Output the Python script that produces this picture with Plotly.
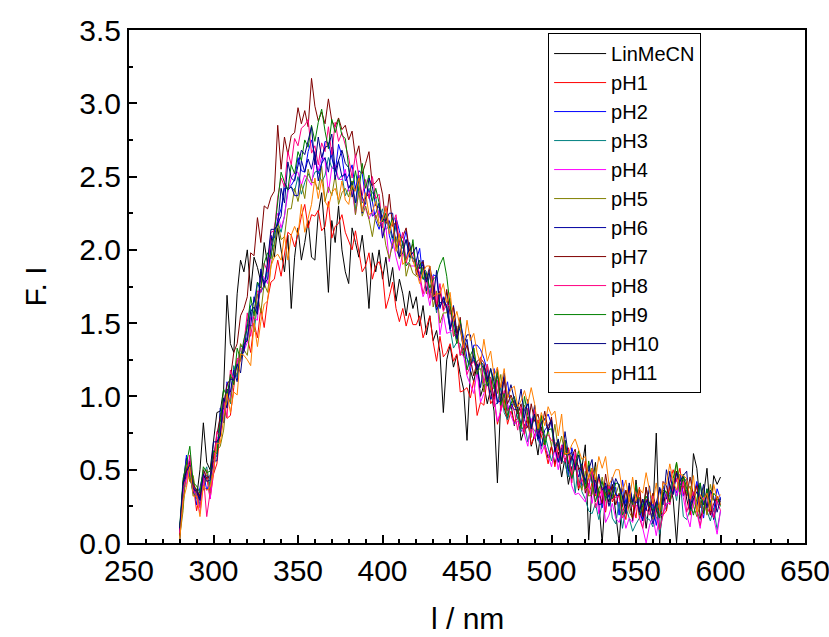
import plotly.graph_objects as go

wavelength = list(range(280, 601, 2))

lin_mecn = [0.00, 0.41, 0.58, 0.45, 0.34, 0.31, 0.50, 0.82, 0.55, 0.50,
            0.70, 0.89, 0.90, 1.05, 1.69, 1.36, 1.30, 1.70, 1.93, 1.85,
            2.00, 1.72, 1.95, 1.88, 1.78, 2.05, 1.90, 2.10, 1.95, 2.15,
            2.00, 1.85, 2.10, 1.60, 1.95, 2.15, 1.93, 2.05, 2.20, 1.95,
            1.93, 2.25, 2.39, 2.10, 1.71, 2.20, 2.05, 2.30, 2.00, 1.85,
            1.77, 2.15, 2.05, 1.95, 2.10, 1.90, 1.60, 1.98, 1.85, 2.00,
            1.80, 1.95, 1.75, 1.88, 1.65, 1.80, 1.70, 1.55, 1.72, 1.60,
            1.68, 1.48, 1.62, 1.42, 1.55, 1.38, 1.45, 1.30, 0.89, 1.25,
            1.35, 1.20, 1.28, 1.15, 1.05, 0.70, 1.18, 1.10, 1.22, 1.00,
            1.08, 0.95, 1.05, 0.90, 0.41, 0.98, 0.92, 0.85, 0.95, 0.80,
            0.92, 0.70, 0.78, 0.86, 0.66, 0.74, 0.60, 0.79, 0.68, 0.58,
            0.66, 0.54, 0.62, 0.45, 0.58, 0.40, 0.52, 0.56, 0.36, 0.50,
            0.67, 0.02, 0.38, 0.55, 0.30, 0.00, 0.35, 0.28, 0.40, 0.20,
            0.00, 0.32, 0.25, 0.38, 0.15, 0.43, 0.22, 0.30, 0.10, 0.28,
            0.20, 0.75, 0.00, 0.35, 0.22, 0.40, 0.30, 0.00, 0.35, 0.45,
            0.30, 0.20, 0.61, 0.51, 0.25, 0.33, 0.51, 0.20, 0.46, 0.40,
            0.45]

ph1 = [0.10, 0.28, 0.52, 0.42, 0.40, 0.22, 0.33, 0.38, 0.45, 0.30,
       0.47, 0.54, 0.76, 0.92, 0.85, 0.87, 1.06, 1.26, 1.24, 1.34,
       1.40, 1.30, 1.50, 1.40, 1.60, 1.47, 1.66, 1.78, 1.80, 1.93,
       1.82, 1.98, 2.12, 2.10, 2.02, 2.11, 2.23, 2.31, 2.15, 2.24,
       2.23, 2.27, 2.13, 2.16, 2.33, 2.08, 2.16, 2.18, 2.24, 2.12,
       2.06, 2.00, 2.13, 1.98, 1.85, 1.89, 1.98, 1.80, 1.89, 1.92,
       1.84, 1.60, 1.68, 1.78, 1.60, 1.51, 1.60, 1.48, 1.57, 1.49,
       1.49, 1.55, 1.40, 1.47, 1.55, 1.37, 1.24, 1.41, 1.27, 1.30,
       1.36, 1.24, 1.29, 1.03, 1.04, 1.06, 0.99, 1.11, 0.87, 0.96,
       0.94, 1.13, 0.95, 0.99, 0.81, 0.90, 0.98, 0.81, 0.90, 0.83,
       0.85, 0.91, 0.74, 0.84, 0.67, 0.73, 0.84, 0.73, 0.65, 0.54,
       0.66, 0.52, 0.65, 0.56, 0.62, 0.65, 0.45, 0.57, 0.37, 0.44,
       0.56, 0.33, 0.41, 0.32, 0.45, 0.33, 0.21, 0.38, 0.28, 0.33,
       0.32, 0.26, 0.16, 0.37, 0.28, 0.17, 0.38, 0.19, 0.30, 0.22,
       0.17, 0.28, 0.23, 0.19, 0.22, 0.41, 0.50, 0.42, 0.51, 0.33,
       0.42, 0.19, 0.30, 0.40, 0.24, 0.30, 0.20, 0.25, 0.17, 0.32,
       0.26]

ph2 = [0.08, 0.38, 0.60, 0.45, 0.44, 0.26, 0.38, 0.48, 0.36, 0.42,
       0.48, 0.69, 0.73, 0.91, 1.10, 1.00, 1.17, 1.22, 1.25, 1.36,
       1.51, 1.62, 1.64, 1.78, 1.71, 1.76, 1.88, 2.09, 2.08, 2.21,
       2.28, 2.42, 2.42, 2.44, 2.48, 2.63, 2.54, 2.53, 2.67, 2.75,
       2.64, 2.52, 2.59, 2.74, 2.73, 2.62, 2.53, 2.72, 2.64, 2.47,
       2.51, 2.58, 2.41, 2.54, 2.52, 2.35, 2.41, 2.33, 2.20, 2.14,
       2.23, 2.28, 2.10, 2.01, 2.22, 2.13, 2.03, 2.13, 1.97, 1.94,
       1.93, 2.01, 1.80, 1.80, 1.68, 1.83, 1.82, 1.60, 1.68, 1.60,
       1.45, 1.55, 1.41, 1.51, 1.40, 1.26, 1.17, 1.35, 1.35, 1.32,
       1.26, 1.18, 1.06, 1.19, 0.95, 1.02, 1.02, 1.10, 0.92, 0.97,
       0.91, 0.91, 0.84, 0.79, 0.77, 0.90, 0.70, 0.83, 0.84, 0.88,
       0.81, 0.63, 0.58, 0.63, 0.70, 0.46, 0.65, 0.56, 0.52, 0.39,
       0.43, 0.38, 0.51, 0.34, 0.35, 0.24, 0.38, 0.37, 0.32, 0.38,
       0.19, 0.43, 0.27, 0.39, 0.28, 0.27, 0.31, 0.15, 0.38, 0.26,
       0.26, 0.12, 0.27, 0.39, 0.30, 0.34, 0.40, 0.34, 0.47, 0.32,
       0.36, 0.30, 0.32, 0.42, 0.28, 0.17, 0.37, 0.19, 0.22, 0.37,
       0.30]

ph3 = [0.12, 0.25, 0.52, 0.48, 0.32, 0.36, 0.26, 0.47, 0.52, 0.38,
       0.61, 0.59, 0.89, 0.82, 1.05, 0.95, 1.21, 1.13, 1.35, 1.32,
       1.41, 1.60, 1.44, 1.63, 1.73, 1.74, 1.86, 1.99, 2.04, 2.19,
       2.12, 2.23, 2.42, 2.43, 2.40, 2.50, 2.38, 2.46, 2.52, 2.47,
       2.53, 2.54, 2.46, 2.51, 2.63, 2.56, 2.55, 2.48, 2.51, 2.37,
       2.42, 2.47, 2.27, 2.49, 2.32, 2.36, 2.42, 2.39, 2.36, 2.22,
       2.28, 2.14, 2.16, 2.06, 2.16, 2.04, 2.01, 2.07, 1.95, 1.95,
       1.91, 1.79, 1.88, 1.85, 1.70, 1.72, 1.57, 1.71, 1.64, 1.60,
       1.47, 1.33, 1.37, 1.36, 1.27, 1.26, 1.21, 1.25, 1.17, 1.25,
       1.08, 1.08, 1.10, 0.93, 0.96, 1.06, 0.89, 0.84, 0.96, 0.97,
       0.85, 0.76, 0.81, 0.69, 0.79, 0.77, 0.71, 0.64, 0.74, 0.65,
       0.56, 0.65, 0.56, 0.57, 0.54, 0.45, 0.58, 0.34, 0.53, 0.35,
       0.30, 0.22, 0.20, 0.27, 0.16, 0.27, 0.37, 0.36, 0.17, 0.13,
       0.28, 0.10, 0.24, 0.17, 0.08, 0.13, 0.17, 0.27, 0.17, 0.16,
       0.11, 0.28, 0.06, 0.21, 0.25, 0.33, 0.41, 0.29, 0.45, 0.18,
       0.16, 0.23, 0.21, 0.22, 0.16, 0.34, 0.22, 0.15, 0.24, 0.09,
       0.22]

ph4 = [0.06, 0.36, 0.40, 0.60, 0.36, 0.32, 0.20, 0.42, 0.50, 0.30,
       0.50, 0.71, 0.75, 0.91, 0.94, 0.99, 1.13, 1.24, 1.33, 1.31,
       1.37, 1.54, 1.53, 1.52, 1.84, 1.81, 1.77, 1.97, 2.16, 2.25,
       2.15, 2.23, 2.39, 2.49, 2.53, 2.53, 2.44, 2.51, 2.48, 2.44,
       2.62, 2.54, 2.64, 2.61, 2.39, 2.56, 2.58, 2.48, 2.48, 2.55,
       2.40, 2.41, 2.24, 2.40, 2.35, 2.28, 2.21, 2.27, 2.21, 2.27,
       2.09, 2.16, 1.92, 2.07, 1.95, 1.86, 1.98, 1.92, 1.89, 1.89,
       1.89, 1.80, 1.68, 1.74, 1.62, 1.74, 1.70, 1.42, 1.56, 1.43,
       1.44, 1.46, 1.44, 1.29, 1.28, 1.14, 1.08, 1.02, 1.17, 0.96,
       1.02, 1.12, 1.09, 0.99, 0.83, 0.90, 1.00, 0.95, 0.87, 0.81,
       0.83, 0.79, 0.74, 0.66, 0.85, 0.71, 0.81, 0.61, 0.67, 0.60,
       0.52, 0.64, 0.50, 0.62, 0.59, 0.56, 0.39, 0.33, 0.34, 0.31,
       0.28, 0.41, 0.27, 0.40, 0.20, 0.36, 0.14, 0.19, 0.27, 0.17,
       0.14, 0.23, 0.10, 0.17, 0.14, 0.26, 0.23, 0.10, 0.00, 0.12,
       0.18, 0.05, 0.19, 0.19, 0.27, 0.27, 0.42, 0.32, 0.43, 0.31,
       0.19, 0.11, 0.30, 0.21, 0.10, 0.31, 0.24, 0.21, 0.17, 0.06,
       0.22]

ph5 = [0.04, 0.22, 0.56, 0.42, 0.46, 0.30, 0.34, 0.36, 0.50, 0.34,
       0.62, 0.63, 0.66, 0.77, 1.00, 0.96, 1.13, 1.16, 1.36, 1.32,
       1.28, 1.48, 1.49, 1.70, 1.57, 1.77, 1.71, 1.89, 2.02, 2.19,
       2.07, 2.09, 2.28, 2.28, 2.42, 2.33, 2.45, 2.35, 2.55, 2.46,
       2.46, 2.41, 2.57, 2.33, 2.43, 2.37, 2.51, 2.31, 2.39, 2.42,
       2.36, 2.47, 2.24, 2.40, 2.23, 2.30, 2.21, 2.09, 2.24, 2.16,
       2.18, 2.03, 1.94, 2.04, 2.09, 1.94, 2.06, 1.82, 1.91, 1.84,
       1.82, 1.83, 1.88, 1.70, 1.85, 1.61, 1.72, 1.50, 1.57, 1.57,
       1.67, 1.41, 1.48, 1.28, 1.34, 1.36, 1.21, 1.33, 1.18, 1.19,
       1.03, 1.22, 1.04, 1.14, 1.02, 1.15, 0.92, 1.00, 0.99, 0.93,
       0.93, 0.89, 0.94, 0.83, 0.72, 0.94, 0.74, 0.87, 0.67, 0.77,
       0.66, 0.81, 0.64, 0.73, 0.60, 0.64, 0.57, 0.56, 0.42, 0.36,
       0.49, 0.32, 0.33, 0.52, 0.32, 0.45, 0.32, 0.40, 0.32, 0.33,
       0.40, 0.28, 0.36, 0.21, 0.17, 0.29, 0.31, 0.21, 0.38, 0.24,
       0.16, 0.27, 0.25, 0.39, 0.33, 0.28, 0.37, 0.55, 0.42, 0.44,
       0.34, 0.39, 0.25, 0.18, 0.26, 0.38, 0.19, 0.40, 0.29, 0.31,
       0.27]

ph6 = [0.09, 0.40, 0.46, 0.56, 0.34, 0.37, 0.30, 0.44, 0.46, 0.44,
       0.56, 0.56, 0.92, 0.82, 1.05, 1.03, 1.18, 1.10, 1.29, 1.30,
       1.49, 1.48, 1.68, 1.58, 1.87, 1.77, 1.80, 2.02, 2.13, 2.18,
       2.23, 2.46, 2.41, 2.43, 2.37, 2.37, 2.61, 2.53, 2.62, 2.55,
       2.67, 2.47, 2.59, 2.63, 2.53, 2.70, 2.48, 2.61, 2.50, 2.52,
       2.42, 2.46, 2.32, 2.51, 2.25, 2.36, 2.38, 2.23, 2.25, 2.32,
       2.08, 2.18, 2.20, 2.08, 2.20, 1.96, 2.05, 1.93, 2.05, 1.92,
       1.93, 1.81, 1.93, 1.72, 1.84, 1.74, 1.59, 1.64, 1.64, 1.71,
       1.46, 1.62, 1.44, 1.46, 1.32, 1.39, 1.21, 1.27, 1.22, 1.06,
       1.21, 1.14, 0.98, 1.02, 1.14, 1.06, 1.13, 0.90, 0.95, 0.91,
       0.91, 0.81, 0.91, 0.95, 0.78, 0.94, 0.77, 0.66, 0.77, 0.80,
       0.84, 0.66, 0.55, 0.65, 0.70, 0.49, 0.59, 0.52, 0.45, 0.54,
       0.40, 0.53, 0.41, 0.43, 0.26, 0.27, 0.41, 0.31, 0.45, 0.33,
       0.32, 0.37, 0.21, 0.39, 0.26, 0.40, 0.22, 0.15, 0.29, 0.24,
       0.13, 0.21, 0.38, 0.31, 0.30, 0.49, 0.34, 0.49, 0.40, 0.41,
       0.44, 0.24, 0.34, 0.24, 0.41, 0.26, 0.34, 0.29, 0.16, 0.27,
       0.31]

ph7 = [0.05, 0.42, 0.50, 0.55, 0.40, 0.36, 0.32, 0.50, 0.44, 0.46,
       0.58, 0.74, 0.86, 0.94, 1.08, 1.12, 1.30, 1.36, 1.55, 1.60,
       1.68, 1.98, 1.96, 2.22, 2.05, 2.30, 2.28, 2.36, 2.40, 2.85,
       2.55, 2.77, 2.65, 2.78, 2.80, 2.97, 2.86, 2.95, 2.84, 3.17,
       2.98, 2.88, 2.94, 2.86, 3.03, 2.88, 2.84, 2.90, 2.82, 2.85,
       2.75, 2.81, 2.63, 2.71, 2.52, 2.59, 2.67, 2.44, 2.46, 2.49,
       2.38, 2.18, 2.38, 2.16, 2.19, 2.05, 2.09, 2.15, 1.99, 2.04,
       1.83, 1.90, 1.92, 1.80, 1.89, 1.76, 1.61, 1.72, 1.59, 1.73,
       1.56, 1.61, 1.41, 1.54, 1.28, 1.35, 1.26, 1.14, 1.24, 1.26,
       1.23, 1.12, 1.13, 0.98, 1.19, 0.96, 1.12, 0.95, 1.01, 0.95,
       0.88, 0.95, 0.78, 0.79, 0.95, 0.83, 0.88, 0.77, 0.90, 0.77,
       0.86, 0.62, 0.68, 0.54, 0.69, 0.54, 0.59, 0.64, 0.50, 0.53,
       0.34, 0.45, 0.51, 0.43, 0.35, 0.27, 0.47, 0.33, 0.39, 0.26,
       0.34, 0.25, 0.36, 0.27, 0.17, 0.29, 0.37, 0.18, 0.38, 0.24,
       0.34, 0.23, 0.17, 0.42, 0.39, 0.28, 0.37, 0.49, 0.38, 0.39,
       0.32, 0.45, 0.32, 0.39, 0.17, 0.23, 0.34, 0.19, 0.27, 0.31,
       0.28]

ph8 = [0.07, 0.38, 0.44, 0.60, 0.36, 0.34, 0.24, 0.46, 0.18, 0.36,
       0.51, 0.76, 0.73, 0.99, 0.86, 1.18, 1.11, 1.24, 1.27, 1.36,
       1.57, 1.41, 1.58, 1.72, 1.71, 1.91, 1.85, 2.12, 2.13, 2.36,
       2.49, 2.43, 2.67, 2.58, 2.76, 2.71, 2.83, 2.85, 2.89, 2.66,
       2.71, 2.58, 2.73, 2.67, 2.84, 2.65, 2.87, 2.74, 2.80, 2.71,
       2.63, 2.49, 2.65, 2.50, 2.37, 2.48, 2.35, 2.50, 2.35, 2.38,
       2.15, 2.30, 2.15, 2.18, 2.24, 2.03, 2.12, 1.91, 1.99, 1.98,
       1.91, 1.84, 1.70, 1.80, 1.67, 1.82, 1.63, 1.77, 1.58, 1.63,
       1.61, 1.41, 1.43, 1.28, 1.38, 1.15, 1.21, 1.24, 1.17, 1.27,
       1.09, 1.22, 1.10, 0.93, 1.11, 0.91, 1.04, 0.90, 0.94, 0.90,
       0.77, 0.93, 0.76, 0.92, 0.75, 0.91, 0.74, 0.76, 0.72, 0.74,
       0.70, 0.69, 0.58, 0.67, 0.55, 0.64, 0.41, 0.62, 0.39, 0.44,
       0.36, 0.39, 0.50, 0.24, 0.31, 0.38, 0.22, 0.39, 0.30, 0.31,
       0.32, 0.17, 0.22, 0.34, 0.25, 0.35, 0.17, 0.10, 0.24, 0.19,
       0.32, 0.18, 0.09, 0.19, 0.34, 0.26, 0.39, 0.44, 0.33, 0.42,
       0.21, 0.29, 0.35, 0.22, 0.12, 0.23, 0.26, 0.35, 0.17, 0.29,
       0.22]

ph9 = [0.11, 0.44, 0.54, 0.66, 0.41, 0.39, 0.34, 0.52, 0.48, 0.49,
       0.63, 0.61, 0.82, 1.05, 1.00, 1.15, 1.08, 1.33, 1.25, 1.39,
       1.47, 1.68, 1.55, 1.78, 1.74, 1.91, 1.98, 1.94, 2.12, 2.33,
       2.53, 2.46, 2.41, 2.58, 2.52, 2.67, 2.61, 2.75, 2.70, 2.85,
       2.74, 2.87, 2.96, 2.81, 2.69, 2.89, 2.80, 2.89, 2.78, 2.76,
       2.56, 2.41, 2.54, 2.40, 2.59, 2.42, 2.51, 2.33, 2.42, 2.32,
       2.19, 2.25, 2.15, 2.22, 2.01, 2.10, 2.05, 1.89, 1.92, 2.07,
       1.86, 1.93, 1.80, 1.84, 1.74, 1.80, 1.82, 1.90, 1.95, 1.82,
       1.62, 1.48, 1.36, 1.52, 1.34, 1.18, 1.28, 1.33, 1.15, 1.24,
       1.18, 1.07, 1.19, 1.05, 1.17, 0.94, 1.02, 0.87, 0.95, 1.00,
       0.91, 0.78, 1.00, 0.87, 0.78, 0.88, 0.77, 0.87, 0.67, 0.77,
       0.78, 0.66, 0.70, 0.55, 0.70, 0.52, 0.44, 0.52, 0.63, 0.49,
       0.37, 0.56, 0.43, 0.28, 0.37, 0.42, 0.29, 0.37, 0.30, 0.41,
       0.40, 0.19, 0.24, 0.33, 0.26, 0.40, 0.19, 0.26, 0.32, 0.26,
       0.22, 0.27, 0.17, 0.36, 0.35, 0.28, 0.44, 0.55, 0.35, 0.47,
       0.36, 0.27, 0.19, 0.29, 0.41, 0.20, 0.37, 0.25, 0.34, 0.31,
       0.25]

ph10 = [0.10, 0.41, 0.49, 0.53, 0.37, 0.35, 0.29, 0.47, 0.42, 0.43,
        0.69, 0.69, 0.73, 0.99, 0.92, 1.12, 1.11, 1.22, 1.16, 1.36,
        1.38, 1.58, 1.61, 1.56, 1.85, 1.75, 1.92, 2.14, 2.14, 2.17,
        2.42, 2.32, 2.60, 2.49, 2.47, 2.58, 2.68, 2.65, 2.75, 2.84,
        2.58, 2.77, 2.63, 2.70, 2.71, 2.79, 2.54, 2.61, 2.68, 2.59,
        2.56, 2.36, 2.43, 2.47, 2.36, 2.31, 2.49, 2.43, 2.30, 2.29,
        2.21, 2.20, 2.25, 2.25, 2.01, 1.95, 1.98, 2.07, 1.95, 1.98,
        2.02, 1.87, 1.90, 1.78, 1.87, 1.66, 1.86, 1.61, 1.67, 1.61,
        1.46, 1.54, 1.39, 1.49, 1.35, 1.42, 1.42, 1.26, 1.18, 1.24,
        1.21, 1.10, 1.19, 1.10, 0.96, 0.97, 1.16, 0.99, 1.08, 0.98,
        0.92, 1.05, 0.85, 0.98, 0.78, 0.88, 0.71, 0.82, 0.85, 0.76,
        0.84, 0.63, 0.71, 0.55, 0.76, 0.60, 0.62, 0.50, 0.60, 0.48,
        0.43, 0.50, 0.57, 0.34, 0.47, 0.36, 0.39, 0.25, 0.35, 0.44,
        0.39, 0.32, 0.20, 0.41, 0.28, 0.33, 0.21, 0.30, 0.22, 0.39,
        0.18, 0.27, 0.37, 0.26, 0.50, 0.39, 0.33, 0.48, 0.42, 0.46,
        0.49, 0.23, 0.30, 0.35, 0.30, 0.40, 0.24, 0.36, 0.31, 0.21,
        0.30]

ph11 = [0.02, 0.29, 0.38, 0.52, 0.32, 0.32, 0.18, 0.39, 0.36, 0.38,
        0.48, 0.68, 0.68, 0.85, 1.02, 0.89, 1.03, 1.01, 1.29, 1.28,
        1.25, 1.21, 1.50, 1.34, 1.51, 1.63, 1.65, 1.89, 1.95, 1.97,
        1.93, 2.10, 1.93, 2.10, 2.16, 2.10, 2.31, 2.12, 2.22, 2.31,
        2.49, 2.35, 2.48, 2.33, 2.29, 2.39, 2.42, 2.34, 2.47, 2.34,
        2.31, 2.44, 2.40, 2.49, 2.26, 2.39, 2.24, 2.26, 2.33, 2.18,
        2.21, 2.29, 2.11, 2.20, 1.99, 2.11, 1.90, 1.93, 1.99, 1.92,
        1.86, 1.77, 1.85, 1.89, 1.89, 1.68, 1.70, 1.70, 1.77, 1.64,
        1.71, 1.51, 1.58, 1.47, 1.33, 1.52, 1.38, 1.43, 1.30, 1.22,
        1.39, 1.24, 1.31, 1.14, 1.20, 1.06, 1.19, 0.99, 1.05, 1.07,
        0.93, 0.97, 1.04, 0.95, 1.06, 0.95, 0.78, 0.89, 0.80, 0.93,
        0.87, 0.90, 0.73, 0.88, 0.61, 0.61, 0.67, 0.71, 0.64, 0.57,
        0.59, 0.44, 0.51, 0.43, 0.59, 0.51, 0.59, 0.40, 0.44, 0.50,
        0.50, 0.35, 0.43, 0.28, 0.45, 0.29, 0.37, 0.34, 0.48, 0.36,
        0.27, 0.41, 0.22, 0.41, 0.40, 0.54, 0.42, 0.36, 0.47, 0.46,
        0.44, 0.30, 0.46, 0.21, 0.33, 0.29, 0.34, 0.22, 0.40, 0.30,
        0.33]

series_names = ["LinMeCN", "pH1", "pH2", "pH3", "pH4", "pH5", "pH6",
                "pH7", "pH8", "pH9", "pH10", "pH11"]
series_values = [lin_mecn, ph1, ph2, ph3, ph4, ph5, ph6, ph7, ph8, ph9, ph10, ph11]
series_colors = ["#000000", "#FF0000", "#0000FF", "#008080", "#FF00FF", "#808000",
                 "#0000A0", "#800000", "#FF0080", "#008000", "#000080", "#FF8000"]

x_ticks = [250, 300, 350, 400, 450, 500, 550, 600, 650]
y_ticks = [0.0, 0.5, 1.0, 1.5, 2.0, 2.5, 3.0, 3.5]

fig = go.Figure()
for name, vals, col in zip(series_names, series_values, series_colors):
    fig.add_trace(go.Scatter(x=wavelength, y=vals, mode="lines", name=name,
                             line=dict(color=col, width=1)))

font_family = "Liberation Sans, Arial, sans-serif"

fig.update_layout(
    width=829, height=637,
    margin=dict(l=129, r=24, t=30, b=94),
    paper_bgcolor="white", plot_bgcolor="white",
    font=dict(family=font_family, color="black"),
    showlegend=True,
    legend=dict(x=0.62, y=0.994, xanchor="left", yanchor="top",
                bgcolor="white", bordercolor="black", borderwidth=1,
                font=dict(size=20, family=font_family, color="black"),
                itemwidth=52, tracegroupgap=0),
    annotations=[
        dict(text="l / nm", xref="paper", yref="paper", x=0.5, y=-0.148,
             xanchor="center", yanchor="middle", showarrow=False,
             font=dict(size=30, family=font_family, color="black")),
        dict(text="F. I", xref="paper", yref="paper", x=-0.139, y=0.5,
             xanchor="center", yanchor="middle", textangle=-90, showarrow=False,
             font=dict(size=30, family=font_family, color="black")),
    ],
)

fig.update_xaxes(
    range=[250, 650], tickvals=x_ticks, ticktext=[str(v) for v in x_ticks],
    ticks="inside", ticklen=8, tickwidth=1.5, tickcolor="black",
    minor=dict(dtick=10, tick0=250, ticks="inside", ticklen=4, tickwidth=1.5, tickcolor="black"),
    showline=True, linecolor="black", linewidth=2, mirror=True,
    showgrid=False, zeroline=False, automargin=False,
    ticklabeloverflow="allow",
    tickfont=dict(size=30, family=font_family, color="black"),
)
fig.update_yaxes(
    range=[0, 3.5], tickvals=y_ticks, tickformat=".1f",
    ticks="inside", ticklen=8, tickwidth=1.5, tickcolor="black",
    minor=dict(dtick=0.25, tick0=0, ticks="inside", ticklen=4, tickwidth=1.5, tickcolor="black"),
    showline=True, linecolor="black", linewidth=2, mirror=True,
    showgrid=False, zeroline=False, automargin=False,
    ticklabeloverflow="allow",
    tickfont=dict(size=30, family=font_family, color="black"),
)

fig.write_html("out.html")
